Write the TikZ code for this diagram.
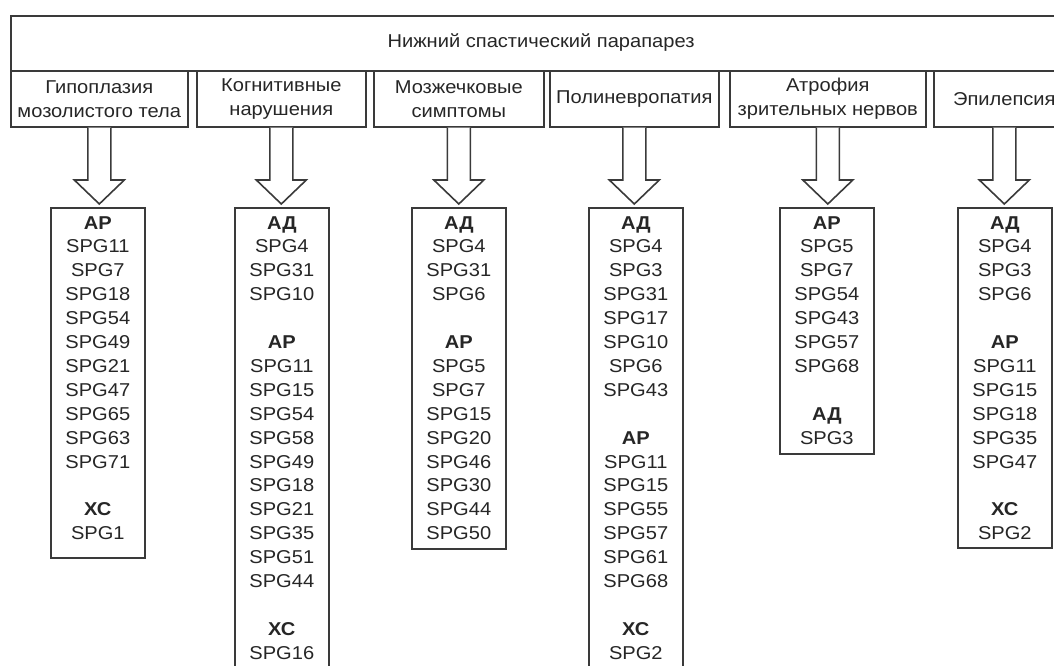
\documentclass[tikz,border=0pt]{standalone}
\usepackage{fontspec}
\setmainfont{Liberation Sans}[FakeStretch=1.08]
\usetikzlibrary{calc}
\definecolor{ink}{HTML}{262626}
\definecolor{edge}{HTML}{3A3A3A}

\begin{document}
\begin{tikzpicture}[x=1pt,y=-1pt,
  every node/.style={font=\fontsize{18.6pt}{23.9pt}\selectfont, text=ink},
  box/.style={draw=edge, line width=1.6pt, rectangle, inner sep=0pt, anchor=north west},
  headbox/.style={box, minimum height=56pt, align=center},
  listbox/.style={box, minimum width=94pt},
  listtext/.style={anchor=north, align=center, inner sep=0pt, yshift=-9pt},
  hollow/.style={draw=edge, line width=1.6pt, fill=white, line join=miter}
]
\useasboundingbox (0,0) rectangle (1054,666);
\clip (0,0) rectangle (1054,666);

% main heading
\node[box, minimum width=1064pt, minimum height=55pt] (top) at (10,15) {};
\node (title) at (541,43) {Нижний спастический парапарез};

% symptom groups
\node[headbox, minimum width=177pt] (r1) at (10,70) {Гипоплазия\\мозолистого тела};
\node[headbox, minimum width=169pt] (r2) at (196,70) {Когнитивные\\нарушения};
\node[headbox, minimum width=170pt] (r3) at (373,70) {Мозжечковые\\симптомы};
\node[headbox, minimum width=169pt] (r4) at (549,70) {Полиневропатия};
\node[headbox, minimum width=196pt] (r5) at (729,70) {Атрофия\\зрительных нервов};
\node[headbox, minimum width=141pt] (r6) at (933,70) {Эпилепсия};

% gene lists
\node[listbox, minimum height=350pt] (l1) at (50,207) {};
\node[listbox, minimum height=480pt] (l2) at (234,207) {};
\node[listbox, minimum height=341pt] (l3) at (411,207) {};
\node[listbox, minimum height=480pt] (l4) at (588,207) {};
\node[listbox, minimum height=246pt] (l5) at (779,207) {};
\node[listbox, minimum height=340pt] (l6) at (957,207) {};

\node[listtext] (t1) at (l1.north) {\textbf{АР}\\SPG11\\SPG7\\SPG18\\SPG54\\SPG49\\SPG21\\SPG47\\SPG65\\SPG63\\SPG71\\[23.9pt]\textbf{ХС}\\SPG1};
\node[listtext] (t2) at (l2.north) {\textbf{АД}\\SPG4\\SPG31\\SPG10\\[23.9pt]\textbf{АР}\\SPG11\\SPG15\\SPG54\\SPG58\\SPG49\\SPG18\\SPG21\\SPG35\\SPG51\\SPG44\\[23.9pt]\textbf{ХС}\\SPG16};
\node[listtext] (t3) at (l3.north) {\textbf{АД}\\SPG4\\SPG31\\SPG6\\[23.9pt]\textbf{АР}\\SPG5\\SPG7\\SPG15\\SPG20\\SPG46\\SPG30\\SPG44\\SPG50};
\node[listtext] (t4) at (l4.north) {\textbf{АД}\\SPG4\\SPG3\\SPG31\\SPG17\\SPG10\\SPG6\\SPG43\\[23.9pt]\textbf{АР}\\SPG11\\SPG15\\SPG55\\SPG57\\SPG61\\SPG68\\[23.9pt]\textbf{ХС}\\SPG2};
\node[listtext] (t5) at (l5.north) {\textbf{АР}\\SPG5\\SPG7\\SPG54\\SPG43\\SPG57\\SPG68\\[23.9pt]\textbf{АД}\\SPG3};
\node[listtext] (t6) at (l6.north) {\textbf{АД}\\SPG4\\SPG3\\SPG6\\[23.9pt]\textbf{АР}\\SPG11\\SPG15\\SPG18\\SPG35\\SPG47\\[23.9pt]\textbf{ХС}\\SPG2};

% hollow block arrows from each group to its gene list
\newcommand\hollowarrow[2]{%
  \draw[hollow] let \p1=(#1.south), \p2=(#2.north) in
    (\x1-11.5pt,\y1) -- (\x1-11.5pt,\y2+27pt) -- (\x1-25pt,\y2+27pt)
    -- (\x1,\y2+3pt) -- (\x1+25pt,\y2+27pt) -- (\x1+11.5pt,\y2+27pt)
    -- (\x1+11.5pt,\y1);}
\hollowarrow{r1}{l1}
\hollowarrow{r2}{l2}
\hollowarrow{r3}{l3}
\hollowarrow{r4}{l4}
\hollowarrow{r5}{l5}
\hollowarrow{r6}{l6}
\end{tikzpicture}
\end{document}
